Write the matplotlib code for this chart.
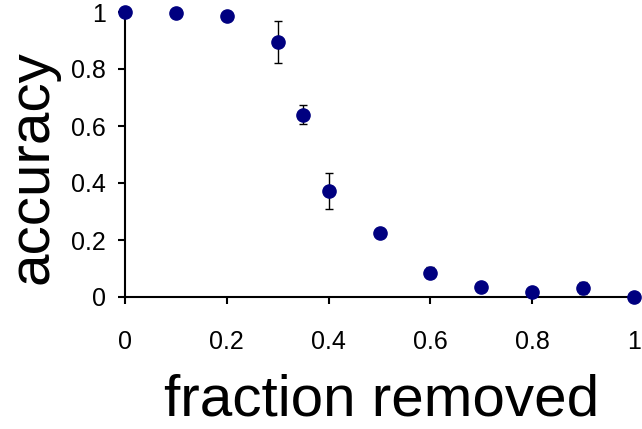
import matplotlib
matplotlib.use("Agg")
import matplotlib.pyplot as plt

fraction = [0.0, 0.1, 0.2, 0.3, 0.35, 0.4, 0.5, 0.6, 0.7, 0.8, 0.9, 1.0]
accuracy = [1.0, 0.996, 0.986, 0.895, 0.639, 0.372, 0.225, 0.085, 0.035, 0.017, 0.032, 0.0]
error = [0.0, 0.0, 0.0, 0.074, 0.033, 0.063, 0.0, 0.02, 0.0, 0.0, 0.02, 0.0]
xticks = [0, 0.2, 0.4, 0.6, 0.8, 1]
xtick_labels = ["0", "0.2", "0.4", "0.6", "0.8", "1"]
yticks = [0, 0.2, 0.4, 0.6, 0.8, 1]
ytick_labels = ["0", "0.2", "0.4", "0.6", "0.8", "1"]

plt.rcParams['font.family'] = ['Liberation Sans', 'DejaVu Sans']

W, H = 642, 429
fig = plt.figure(figsize=(W/100, H/100), dpi=100)
ax = fig.add_axes([125/W, 1-297/H, (634-125)/W, (297-12)/H])

ax.errorbar(fraction, accuracy, yerr=error, fmt='o', color='#000080',
            markersize=9.5, ecolor='black', elinewidth=1, capsize=3, capthick=1,
            clip_on=False, zorder=3)

ax.set_xlim(0, 1)
ax.set_ylim(0, 1)
ax.set_xticks(xticks)
ax.set_xticklabels(xtick_labels)
ax.set_yticks(yticks)
ax.set_yticklabels(ytick_labels)
for s in ['top', 'right']:
    ax.spines[s].set_visible(False)
for s in ['left', 'bottom']:
    ax.spines[s].set_linewidth(1.5)
ax.tick_params(direction='out', length=5, width=1.5, labelsize=18)
ax.tick_params(axis='x', pad=19)
ax.tick_params(axis='y', pad=8.5)

fig.text(382/W, 1-416/H, 'fraction removed', fontsize=42, ha='center', va='baseline')
fig.text(6/W, 1-167/H, 'accuracy', fontsize=42, rotation=90, ha='left', va='center')

fig.savefig('out.png', dpi=100)
